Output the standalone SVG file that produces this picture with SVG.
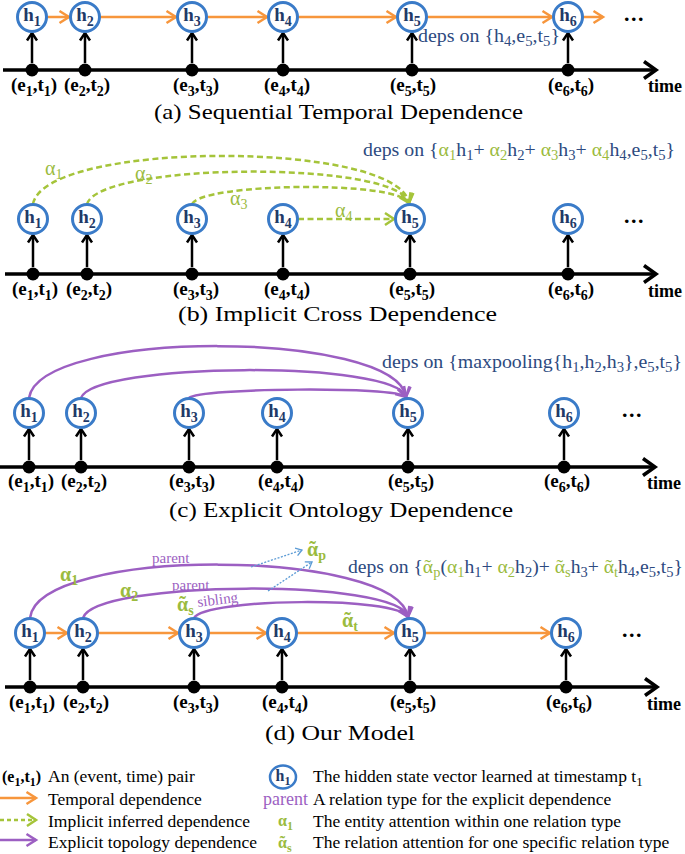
<svg xmlns="http://www.w3.org/2000/svg" width="685" height="854" viewBox="0 0 685 854">
<defs>
<style>
text{font-family:"Liberation Serif","Times New Roman",serif}
.nc{fill:#fff;stroke:#3A7BC8;stroke-width:3}
.nl{font-weight:bold;font-size:19px;fill:#1F3A68;text-anchor:middle}
.s{font-size:14px}
.ev{font-weight:bold;font-size:19px;fill:#000;text-anchor:middle}
.dot{fill:#000}
.up{stroke:#000;stroke-width:2.5;fill:none;marker-end:url(#mBk)}
.axis{stroke:#000;stroke-width:3.5;fill:none;marker-end:url(#mAx)}
.tmp{stroke:#F7963C;stroke-width:2.5;fill:none;marker-end:url(#mOr)}
.imp{stroke:#A5C43A;stroke-width:2.5;fill:none;stroke-dasharray:6 3.5;marker-end:url(#mGr)}
.exp{stroke:#9C5FC2;stroke-width:2.5;fill:none;marker-end:url(#mPu)}
.blu{stroke:#5B9BD5;stroke-width:1.3;fill:none;stroke-dasharray:2 1.5;marker-end:url(#mBl)}
.cap{font-size:21px;fill:#000}
.dep{font-size:19px;fill:#2D4A80}
.g{fill:#9BBB3E}
.ga{font-size:20px;fill:#9BBB3E}
.gb{font-size:20px;fill:#9BBB3E;font-weight:bold}
.time{font-weight:bold;font-size:18px;fill:#000}
.ell{font-weight:bold;font-size:22px;fill:#000;letter-spacing:1.5px}
.rel{font-size:15px;fill:#9C5FC2}
.lg{font-size:17.5px;fill:#000}
</style>
<marker id="mBk" markerUnits="userSpaceOnUse" orient="auto" overflow="visible" markerWidth="1" markerHeight="1"><path d="M-7.5,-5 L0,0 L-7.5,5" fill="none" stroke="#000" stroke-width="2.5"/></marker>
<marker id="mAx" markerUnits="userSpaceOnUse" orient="auto" overflow="visible" markerWidth="1" markerHeight="1"><path d="M-12,-8.5 L0,0 L-12,8.5" fill="none" stroke="#000" stroke-width="3.5"/></marker>
<marker id="mOr" markerUnits="userSpaceOnUse" orient="auto" overflow="visible" markerWidth="1" markerHeight="1"><path d="M-9.5,-6 L0,0 L-9.5,6" fill="none" stroke="#F7963C" stroke-width="2.5"/></marker>
<marker id="mGr" markerUnits="userSpaceOnUse" orient="auto" overflow="visible" markerWidth="1" markerHeight="1"><path d="M-9,-6 L0,0 L-9,6" fill="none" stroke="#A5C43A" stroke-width="2.5"/></marker>
<marker id="mPu" markerUnits="userSpaceOnUse" orient="auto" overflow="visible" markerWidth="1" markerHeight="1"><path d="M-9.5,-6 L0,0 L-9.5,6" fill="none" stroke="#9C5FC2" stroke-width="2.5"/></marker>
<marker id="mBl" markerUnits="userSpaceOnUse" orient="auto" overflow="visible" markerWidth="1" markerHeight="1"><path d="M-6,-4 L0,0 L-6,4" fill="none" stroke="#5B9BD5" stroke-width="1.3"/></marker>
</defs>
<rect width="685" height="854" fill="#fff"/>

<!-- ===== Panel (a) ===== -->
<g id="a-connectors">
<path class="axis" d="M3,70 H656"/>
<path class="up" d="M32,63 V33"/><path class="up" d="M85,63 V33"/><path class="up" d="M192,63 V33"/><path class="up" d="M283,63 V33"/><path class="up" d="M412,63 V33"/><path class="up" d="M568,63 V33"/>
<path class="tmp" d="M47,17 H69"/><path class="tmp" d="M100,17 H176"/><path class="tmp" d="M207,17 H267"/><path class="tmp" d="M298,17 H396"/><path class="tmp" d="M427,17 H552"/><path class="tmp" d="M583,17 H603"/>
</g>
<g id="a-h1"><circle class="nc" cx="32" cy="17" r="14.5"/><text class="nl" x="32" y="21">h<tspan class="s" dy="5">1</tspan></text></g>
<g id="a-h2"><circle class="nc" cx="85" cy="17" r="14.5"/><text class="nl" x="85" y="21">h<tspan class="s" dy="5">2</tspan></text></g>
<g id="a-h3"><circle class="nc" cx="192" cy="17" r="14.5"/><text class="nl" x="192" y="21">h<tspan class="s" dy="5">3</tspan></text></g>
<g id="a-h4"><circle class="nc" cx="283" cy="17" r="14.5"/><text class="nl" x="283" y="21">h<tspan class="s" dy="5">4</tspan></text></g>
<g id="a-h5"><circle class="nc" cx="412" cy="17" r="14.5"/><text class="nl" x="412" y="21">h<tspan class="s" dy="5">5</tspan></text></g>
<g id="a-h6"><circle class="nc" cx="568" cy="17" r="14.5"/><text class="nl" x="568" y="21">h<tspan class="s" dy="5">6</tspan></text></g>
<g id="a-e1"><circle class="dot" cx="32" cy="70" r="6.5"/><text class="ev" x="34" y="91">(e<tspan class="s" dy="5">1</tspan><tspan dy="-5">,t</tspan><tspan class="s" dy="5">1</tspan><tspan dy="-5">)</tspan></text></g>
<g id="a-e2"><circle class="dot" cx="85" cy="70" r="6.5"/><text class="ev" x="87" y="91">(e<tspan class="s" dy="5">2</tspan><tspan dy="-5">,t</tspan><tspan class="s" dy="5">2</tspan><tspan dy="-5">)</tspan></text></g>
<g id="a-e3"><circle class="dot" cx="192" cy="70" r="6.5"/><text class="ev" x="196" y="91">(e<tspan class="s" dy="5">3</tspan><tspan dy="-5">,t</tspan><tspan class="s" dy="5">3</tspan><tspan dy="-5">)</tspan></text></g>
<g id="a-e4"><circle class="dot" cx="283" cy="70" r="6.5"/><text class="ev" x="287" y="91">(e<tspan class="s" dy="5">4</tspan><tspan dy="-5">,t</tspan><tspan class="s" dy="5">4</tspan><tspan dy="-5">)</tspan></text></g>
<g id="a-e5"><circle class="dot" cx="412" cy="70" r="6.5"/><text class="ev" x="413" y="91">(e<tspan class="s" dy="5">5</tspan><tspan dy="-5">,t</tspan><tspan class="s" dy="5">5</tspan><tspan dy="-5">)</tspan></text></g>
<g id="a-e6"><circle class="dot" cx="568" cy="70" r="6.5"/><text class="ev" x="571" y="91">(e<tspan class="s" dy="5">6</tspan><tspan dy="-5">,t</tspan><tspan class="s" dy="5">6</tspan><tspan dy="-5">)</tspan></text></g>
<text class="ell" x="624" y="21">...</text>
<text class="time" x="648" y="92">time</text>
<text class="dep" x="418" y="42" textLength="142" lengthAdjust="spacingAndGlyphs">deps on {h<tspan class="s" dy="4">4</tspan><tspan dy="-4">,e</tspan><tspan class="s" dy="4">5</tspan><tspan dy="-4">,t</tspan><tspan class="s" dy="4">5</tspan><tspan dy="-4">}</tspan></text>
<text class="cap" x="154" y="119" textLength="369" lengthAdjust="spacingAndGlyphs">(a)  Sequential Temporal Dependence</text>

<!-- ===== Panel (b) ===== -->
<g id="b-connectors">
<path class="axis" d="M5,274 H656"/>
<path class="up" d="M33,267 V235"/><path class="up" d="M87,267 V235"/><path class="up" d="M192,267 V235"/><path class="up" d="M283,267 V235"/><path class="up" d="M410,267 V235"/><path class="up" d="M568,267 V235"/>
<path class="imp" d="M33,204 C45,140 398,140 409,203"/>
<path class="imp" d="M87,204 C100,162 398,160 409,203"/>
<path class="imp" d="M192,204 C202,183 398,180 409,203"/>
<path class="imp" d="M298,219 H394"/>
</g>
<g id="b-h1"><circle class="nc" cx="33" cy="219" r="14.5"/><text class="nl" x="33" y="223">h<tspan class="s" dy="5">1</tspan></text></g>
<g id="b-h2"><circle class="nc" cx="87" cy="219" r="14.5"/><text class="nl" x="87" y="223">h<tspan class="s" dy="5">2</tspan></text></g>
<g id="b-h3"><circle class="nc" cx="192" cy="219" r="14.5"/><text class="nl" x="192" y="223">h<tspan class="s" dy="5">3</tspan></text></g>
<g id="b-h4"><circle class="nc" cx="283" cy="219" r="14.5"/><text class="nl" x="283" y="223">h<tspan class="s" dy="5">4</tspan></text></g>
<g id="b-h5"><circle class="nc" cx="410" cy="219" r="14.5"/><text class="nl" x="410" y="223">h<tspan class="s" dy="5">5</tspan></text></g>
<g id="b-h6"><circle class="nc" cx="568" cy="219" r="14.5"/><text class="nl" x="568" y="223">h<tspan class="s" dy="5">6</tspan></text></g>
<g id="b-e1"><circle class="dot" cx="33" cy="274" r="6.5"/><text class="ev" x="35" y="295">(e<tspan class="s" dy="5">1</tspan><tspan dy="-5">,t</tspan><tspan class="s" dy="5">1</tspan><tspan dy="-5">)</tspan></text></g>
<g id="b-e2"><circle class="dot" cx="87" cy="274" r="6.5"/><text class="ev" x="89" y="295">(e<tspan class="s" dy="5">2</tspan><tspan dy="-5">,t</tspan><tspan class="s" dy="5">2</tspan><tspan dy="-5">)</tspan></text></g>
<g id="b-e3"><circle class="dot" cx="192" cy="274" r="6.5"/><text class="ev" x="196" y="295">(e<tspan class="s" dy="5">3</tspan><tspan dy="-5">,t</tspan><tspan class="s" dy="5">3</tspan><tspan dy="-5">)</tspan></text></g>
<g id="b-e4"><circle class="dot" cx="283" cy="274" r="6.5"/><text class="ev" x="287" y="295">(e<tspan class="s" dy="5">4</tspan><tspan dy="-5">,t</tspan><tspan class="s" dy="5">4</tspan><tspan dy="-5">)</tspan></text></g>
<g id="b-e5"><circle class="dot" cx="410" cy="274" r="6.5"/><text class="ev" x="412" y="295">(e<tspan class="s" dy="5">5</tspan><tspan dy="-5">,t</tspan><tspan class="s" dy="5">5</tspan><tspan dy="-5">)</tspan></text></g>
<g id="b-e6"><circle class="dot" cx="568" cy="274" r="6.5"/><text class="ev" x="571" y="295">(e<tspan class="s" dy="5">6</tspan><tspan dy="-5">,t</tspan><tspan class="s" dy="5">6</tspan><tspan dy="-5">)</tspan></text></g>
<text class="ga" x="45" y="175">α<tspan class="s" dy="4">1</tspan></text>
<text class="ga" x="135" y="180">α<tspan class="s" dy="4">2</tspan></text>
<text class="ga" x="230" y="205">α<tspan class="s" dy="4">3</tspan></text>
<text class="ga" x="335" y="217">α<tspan class="s" dy="4">4</tspan></text>
<text class="ell" x="624" y="223">...</text>
<text class="time" x="648" y="297">time</text>
<text class="dep" x="363" y="156" textLength="312" lengthAdjust="spacingAndGlyphs">deps on {<tspan class="g">α</tspan><tspan class="s g" dy="4">1</tspan><tspan dy="-4">h</tspan><tspan class="s" dy="4">1</tspan><tspan dy="-4">+ </tspan><tspan class="g">α</tspan><tspan class="s g" dy="4">2</tspan><tspan dy="-4">h</tspan><tspan class="s" dy="4">2</tspan><tspan dy="-4">+ </tspan><tspan class="g">α</tspan><tspan class="s g" dy="4">3</tspan><tspan dy="-4">h</tspan><tspan class="s" dy="4">3</tspan><tspan dy="-4">+ </tspan><tspan class="g">α</tspan><tspan class="s g" dy="4">4</tspan><tspan dy="-4">h</tspan><tspan class="s" dy="4">4</tspan><tspan dy="-4">,e</tspan><tspan class="s" dy="4">5</tspan><tspan dy="-4">,t</tspan><tspan class="s" dy="4">5</tspan><tspan dy="-4">}</tspan></text>
<text class="cap" x="178" y="321" textLength="319" lengthAdjust="spacingAndGlyphs">(b)  Implicit Cross Dependence</text>

<!-- ===== Panel (c) ===== -->
<g id="c-connectors">
<path class="axis" d="M0,467 H655"/>
<path class="up" d="M29,460 V429"/><path class="up" d="M81,460 V429"/><path class="up" d="M189,460 V429"/><path class="up" d="M277,460 V429"/><path class="up" d="M408,460 V429"/><path class="up" d="M564,460 V429"/>
<path class="exp" d="M29,398 C40,328 396,330 406,397"/>
<path class="exp" d="M81,398 C93,362 396,360 406,397"/>
<path class="exp" d="M189,398 C200,388 396,386 406,397"/>
</g>
<g id="c-h1"><circle class="nc" cx="29" cy="413" r="14.5"/><text class="nl" x="29" y="417">h<tspan class="s" dy="5">1</tspan></text></g>
<g id="c-h2"><circle class="nc" cx="81" cy="413" r="14.5"/><text class="nl" x="81" y="417">h<tspan class="s" dy="5">2</tspan></text></g>
<g id="c-h3"><circle class="nc" cx="189" cy="413" r="14.5"/><text class="nl" x="189" y="417">h<tspan class="s" dy="5">3</tspan></text></g>
<g id="c-h4"><circle class="nc" cx="277" cy="413" r="14.5"/><text class="nl" x="277" y="417">h<tspan class="s" dy="5">4</tspan></text></g>
<g id="c-h5"><circle class="nc" cx="408" cy="413" r="14.5"/><text class="nl" x="408" y="417">h<tspan class="s" dy="5">5</tspan></text></g>
<g id="c-h6"><circle class="nc" cx="564" cy="413" r="14.5"/><text class="nl" x="564" y="417">h<tspan class="s" dy="5">6</tspan></text></g>
<g id="c-e1"><circle class="dot" cx="29" cy="467" r="6.5"/><text class="ev" x="31" y="487">(e<tspan class="s" dy="5">1</tspan><tspan dy="-5">,t</tspan><tspan class="s" dy="5">1</tspan><tspan dy="-5">)</tspan></text></g>
<g id="c-e2"><circle class="dot" cx="81" cy="467" r="6.5"/><text class="ev" x="84" y="487">(e<tspan class="s" dy="5">2</tspan><tspan dy="-5">,t</tspan><tspan class="s" dy="5">2</tspan><tspan dy="-5">)</tspan></text></g>
<g id="c-e3"><circle class="dot" cx="189" cy="467" r="6.5"/><text class="ev" x="192" y="487">(e<tspan class="s" dy="5">3</tspan><tspan dy="-5">,t</tspan><tspan class="s" dy="5">3</tspan><tspan dy="-5">)</tspan></text></g>
<g id="c-e4"><circle class="dot" cx="277" cy="467" r="6.5"/><text class="ev" x="281" y="487">(e<tspan class="s" dy="5">4</tspan><tspan dy="-5">,t</tspan><tspan class="s" dy="5">4</tspan><tspan dy="-5">)</tspan></text></g>
<g id="c-e5"><circle class="dot" cx="408" cy="467" r="6.5"/><text class="ev" x="411" y="487">(e<tspan class="s" dy="5">5</tspan><tspan dy="-5">,t</tspan><tspan class="s" dy="5">5</tspan><tspan dy="-5">)</tspan></text></g>
<g id="c-e6"><circle class="dot" cx="564" cy="467" r="6.5"/><text class="ev" x="567" y="487">(e<tspan class="s" dy="5">6</tspan><tspan dy="-5">,t</tspan><tspan class="s" dy="5">6</tspan><tspan dy="-5">)</tspan></text></g>
<text class="ell" x="622" y="417">...</text>
<text class="time" x="647" y="489">time</text>
<text class="dep" x="382" y="368" textLength="300" lengthAdjust="spacingAndGlyphs">deps on {maxpooling{h<tspan class="s" dy="4">1</tspan><tspan dy="-4">,h</tspan><tspan class="s" dy="4">2</tspan><tspan dy="-4">,h</tspan><tspan class="s" dy="4">3</tspan><tspan dy="-4">},e</tspan><tspan class="s" dy="4">5</tspan><tspan dy="-4">,t</tspan><tspan class="s" dy="4">5</tspan><tspan dy="-4">}</tspan></text>
<text class="cap" x="169" y="517" textLength="344" lengthAdjust="spacingAndGlyphs">(c)  Explicit Ontology Dependence</text>

<!-- ===== Panel (d) ===== -->
<g id="d-connectors">
<path class="axis" d="M5,687 H657"/>
<path class="up" d="M30,680 V649"/><path class="up" d="M83,680 V649"/><path class="up" d="M194,680 V649"/><path class="up" d="M282,680 V649"/><path class="up" d="M410,680 V649"/><path class="up" d="M566,680 V649"/>
<path class="tmp" d="M45,633 H67"/><path class="tmp" d="M98,633 H178"/><path class="tmp" d="M209,633 H266"/><path class="tmp" d="M297,633 H394"/><path class="tmp" d="M425,633 H550"/>
<path class="exp" d="M30,618 C38,546 398,548 408,617"/>
<path class="exp" d="M83,618 C95,580 398,578 408,617"/>
<path class="exp" d="M194,618 C205,598 398,596 408,617"/>
<path class="blu" d="M251,567 L302,550"/>
<path class="blu" d="M268,591 L312,562"/>
</g>
<g id="d-h1"><circle class="nc" cx="30" cy="633" r="14.5"/><text class="nl" x="30" y="637">h<tspan class="s" dy="5">1</tspan></text></g>
<g id="d-h2"><circle class="nc" cx="83" cy="633" r="14.5"/><text class="nl" x="83" y="637">h<tspan class="s" dy="5">2</tspan></text></g>
<g id="d-h3"><circle class="nc" cx="194" cy="633" r="14.5"/><text class="nl" x="194" y="637">h<tspan class="s" dy="5">3</tspan></text></g>
<g id="d-h4"><circle class="nc" cx="282" cy="633" r="14.5"/><text class="nl" x="282" y="637">h<tspan class="s" dy="5">4</tspan></text></g>
<g id="d-h5"><circle class="nc" cx="410" cy="633" r="14.5"/><text class="nl" x="410" y="637">h<tspan class="s" dy="5">5</tspan></text></g>
<g id="d-h6"><circle class="nc" cx="566" cy="633" r="14.5"/><text class="nl" x="566" y="637">h<tspan class="s" dy="5">6</tspan></text></g>
<g id="d-e1"><circle class="dot" cx="30" cy="687" r="6.5"/><text class="ev" x="32" y="708">(e<tspan class="s" dy="5">1</tspan><tspan dy="-5">,t</tspan><tspan class="s" dy="5">1</tspan><tspan dy="-5">)</tspan></text></g>
<g id="d-e2"><circle class="dot" cx="83" cy="687" r="6.5"/><text class="ev" x="86" y="708">(e<tspan class="s" dy="5">2</tspan><tspan dy="-5">,t</tspan><tspan class="s" dy="5">2</tspan><tspan dy="-5">)</tspan></text></g>
<g id="d-e3"><circle class="dot" cx="194" cy="687" r="6.5"/><text class="ev" x="196" y="708">(e<tspan class="s" dy="5">3</tspan><tspan dy="-5">,t</tspan><tspan class="s" dy="5">3</tspan><tspan dy="-5">)</tspan></text></g>
<g id="d-e4"><circle class="dot" cx="282" cy="687" r="6.5"/><text class="ev" x="285" y="708">(e<tspan class="s" dy="5">4</tspan><tspan dy="-5">,t</tspan><tspan class="s" dy="5">4</tspan><tspan dy="-5">)</tspan></text></g>
<g id="d-e5"><circle class="dot" cx="410" cy="687" r="6.5"/><text class="ev" x="413" y="708">(e<tspan class="s" dy="5">5</tspan><tspan dy="-5">,t</tspan><tspan class="s" dy="5">5</tspan><tspan dy="-5">)</tspan></text></g>
<g id="d-e6"><circle class="dot" cx="566" cy="687" r="6.5"/><text class="ev" x="569" y="708">(e<tspan class="s" dy="5">6</tspan><tspan dy="-5">,t</tspan><tspan class="s" dy="5">6</tspan><tspan dy="-5">)</tspan></text></g>
<text class="gb" x="60" y="581">α<tspan class="s" dy="4">1</tspan></text>
<text class="gb" x="120" y="597">α<tspan class="s" dy="4">2</tspan></text>
<text class="gb" x="177" y="611">α<tspan dx="-8.9">˜</tspan><tspan class="s" dx="2.2" dy="4">s</tspan></text>
<text class="gb" x="307" y="556">α<tspan dx="-8.9">˜</tspan><tspan class="s" dx="2.2" dy="4">p</tspan></text>
<text class="gb" x="342" y="627">α<tspan dx="-8.9">˜</tspan><tspan class="s" dx="2.2" dy="4">t</tspan></text>
<text class="rel" x="152" y="563">parent</text>
<text class="rel" x="172" y="590">parent</text>
<text class="rel" x="198" y="607" transform="rotate(-7 198 607)">sibling</text>
<text class="ell" x="622" y="637">...</text>
<text class="time" x="647" y="710">time</text>
<text class="dep" x="348" y="573" textLength="335" lengthAdjust="spacingAndGlyphs">deps on {<tspan class="g">α</tspan><tspan class="g" dx="-8.3">˜</tspan><tspan class="s g" dx="2" dy="4">p</tspan><tspan dy="-4">(</tspan><tspan class="g">α</tspan><tspan class="s g" dy="4">1</tspan><tspan dy="-4">h</tspan><tspan class="s" dy="4">1</tspan><tspan dy="-4">+ </tspan><tspan class="g">α</tspan><tspan class="s g" dy="4">2</tspan><tspan dy="-4">h</tspan><tspan class="s" dy="4">2</tspan><tspan dy="-4">)+ </tspan><tspan class="g">α</tspan><tspan class="g" dx="-8.3">˜</tspan><tspan class="s g" dx="2" dy="4">s</tspan><tspan dy="-4">h</tspan><tspan class="s" dy="4">3</tspan><tspan dy="-4">+ </tspan><tspan class="g">α</tspan><tspan class="g" dx="-8.3">˜</tspan><tspan class="s g" dx="2" dy="4">t</tspan><tspan dy="-4">h</tspan><tspan class="s" dy="4">4</tspan><tspan dy="-4">,e</tspan><tspan class="s" dy="4">5</tspan><tspan dy="-4">,t</tspan><tspan class="s" dy="4">5</tspan><tspan dy="-4">}</tspan></text>
<text class="cap" x="265" y="740" textLength="150" lengthAdjust="spacingAndGlyphs">(d)  Our Model</text>

<!-- ===== Legend ===== -->
<g id="legend-connectors">
<path class="tmp" d="M0,798 H36"/>
<path class="imp" d="M0,820 H36" style="stroke-dasharray:4 3"/>
<path class="exp" d="M0,840 H36"/>
</g>
<g id="legend-pair"><text class="ev" x="2" y="782" style="text-anchor:start;font-size:16px">(e<tspan style="font-size:12px" dy="4">1</tspan><tspan dy="-4">,t</tspan><tspan style="font-size:12px" dy="4">1</tspan><tspan dy="-4">)</tspan></text><text class="lg" x="48" y="782">An (event, time) pair</text></g>
<text class="lg" x="48" y="805">Temporal dependence</text>
<text class="lg" x="48" y="827">Implicit inferred dependence</text>
<text class="lg" x="48" y="848">Explicit topology dependence</text>
<g id="legend-h1"><ellipse class="nc" cx="283" cy="777" rx="13" ry="11.5" style="stroke-width:2.5"/><text class="nl" x="283" y="781" style="font-size:16px">h<tspan style="font-size:12px" dy="4">1</tspan></text></g>
<text class="lg" x="313" y="782">The hidden state vector learned at timestamp t<tspan style="font-size:13px" dy="4">1</tspan></text>
<text class="rel" x="263" y="805" style="font-size:18px">parent</text>
<text class="lg" x="313" y="805">A relation type for the explicit dependence</text>
<text class="gb" x="278" y="826" style="font-size:16px">α<tspan style="font-size:12px" dy="4">1</tspan></text>
<text class="lg" x="313" y="827">The entity attention within one relation type</text>
<text class="gb" x="278" y="848" style="font-size:16px">α<tspan dx="-7.1">˜</tspan><tspan style="font-size:12px" dx="1.8" dy="4">s</tspan></text>
<text class="lg" x="313" y="848">The relation attention for one specific relation type</text>
</svg>
